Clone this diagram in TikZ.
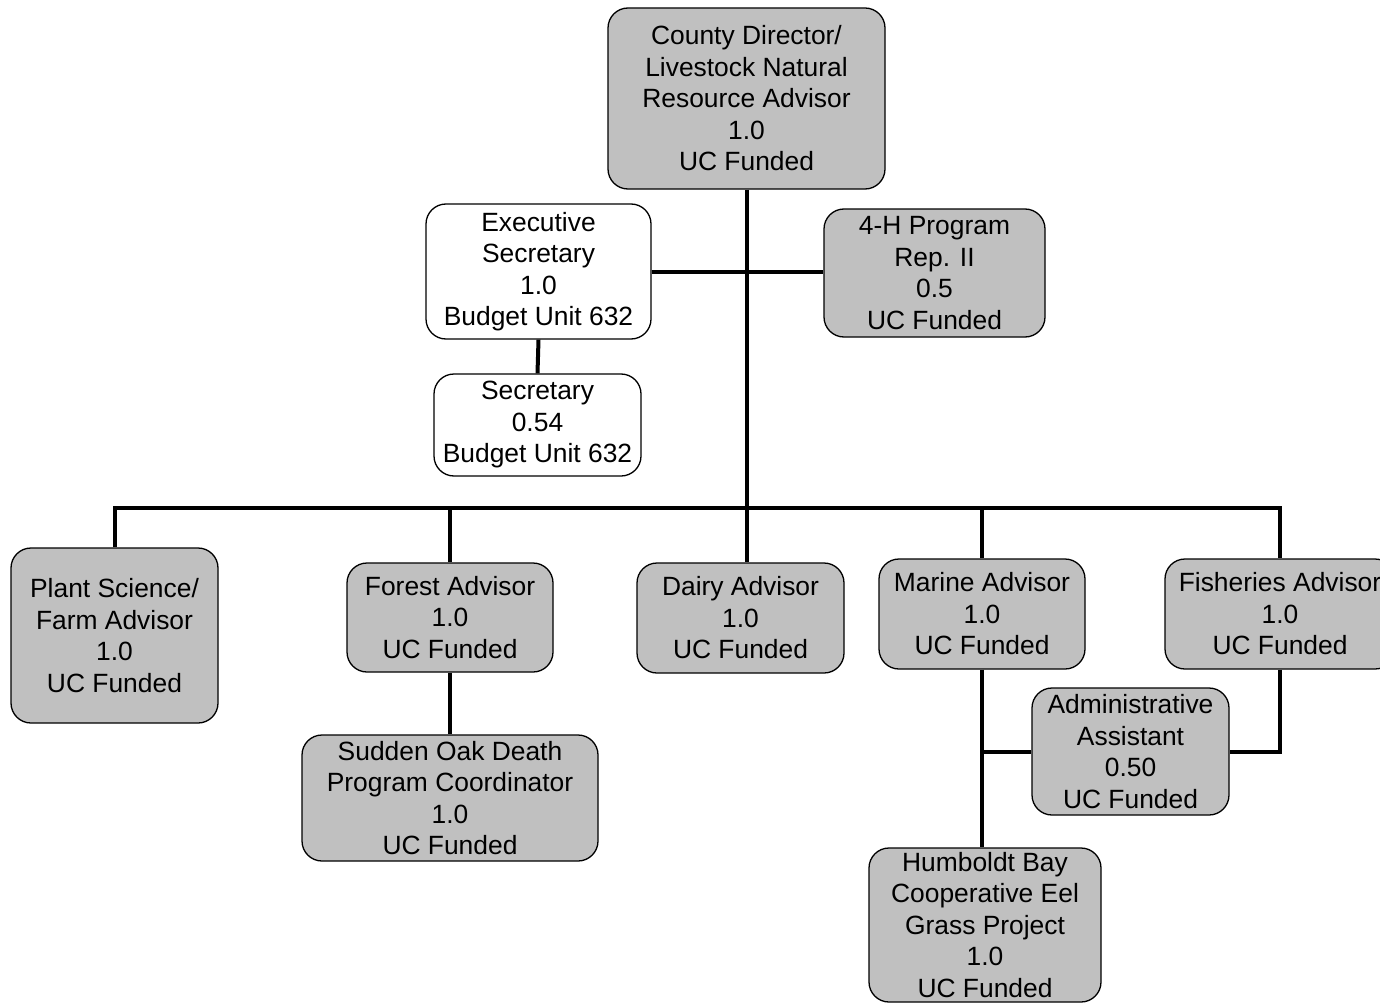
\documentclass[tikz,border=0pt]{standalone}
\usepackage{fontspec}
\setmainfont{Liberation Sans}
\definecolor{boxgray}{HTML}{C0C0C0}
\begin{document}
\begin{tikzpicture}[x=1pt,y=-1pt,
  box/.style={draw=black,line width=1.3pt,rounded corners=20pt,fill=boxgray,
    align=center,inner sep=0pt,font=\fontsize{26.4}{31.5}\selectfont},
  wbox/.style={box,fill=white},
  link/.style={line width=4pt}]
\useasboundingbox (0,0) rectangle (1380,1003);
\clip (0,0) rectangle (1380,1003);
\fill[white] (0,0) rectangle (1380,1003);
\node[box,minimum width=277pt,minimum height=181pt] (dir) at (746.5,98.5) {County Director/\\Livestock Natural\\Resource Advisor\\1.0\\UC Funded};
\node[wbox,minimum width=225pt,minimum height=135pt] (exec) at (538.5,271.5) {Executive\\Secretary\\1.0\\Budget Unit 632};
\node[box,minimum width=221pt,minimum height=128pt] (h4) at (934.5,273) {4-H Program\\Rep. II\\0.5\\UC Funded};
\node[wbox,minimum width=207pt,minimum height=102pt] (sec) at (537.5,425) {Secretary\\0.54\\Budget Unit 632};
\node[box,minimum width=207pt,minimum height=175pt] (plant) at (114.5,635.5) {Plant Science/\\Farm Advisor\\1.0\\UC Funded};
\node[box,minimum width=206pt,minimum height=109pt] (forest) at (450,617.5) {Forest Advisor\\1.0\\UC Funded};
\node[box,minimum width=296pt,minimum height=126pt] (oak) at (450,798) {Sudden Oak Death\\Program Coordinator\\1.0\\UC Funded};
\node[box,minimum width=207pt,minimum height=110pt] (dairy) at (740.5,618) {Dairy Advisor\\1.0\\UC Funded};
\node[box,minimum width=206pt,minimum height=110pt] (marine) at (982,614) {Marine Advisor\\1.0\\UC Funded};
\node[box,minimum width=230pt,minimum height=110pt] (fish) at (1280,614) {Fisheries Advisor\\1.0\\UC Funded};
\node[box,minimum width=197pt,minimum height=127pt] (admin) at (1130.5,751.5) {Administrative\\Assistant\\0.50\\UC Funded};
\node[box,minimum width=232pt,minimum height=154pt] (humb) at (985,925) {Humboldt Bay\\Cooperative Eel\\Grass Project\\1.0\\UC Funded};
\coordinate (bus) at (746,508);
\draw[link] (dir.south) -- (dir.south |- dairy.north);
\draw[link] (exec.east) -- (exec.east -| h4.west);
\draw[link] (exec.south) -- (sec.north);
\draw[link] (plant.north) -- (plant.north |- bus) -- (fish.north |- bus) -- (fish.north);
\draw[link] (forest.north) -- (forest.north |- bus);
\draw[link] (marine.north) -- (marine.north |- bus);
\draw[link] (forest.south) -- (oak.north);
\draw[link] (marine.south) -- (marine.south |- humb.north);
\draw[link] (marine.south |- admin.west) -- (admin.west);
\draw[link] (fish.south) |- (admin.east);
\end{tikzpicture}
\end{document}
